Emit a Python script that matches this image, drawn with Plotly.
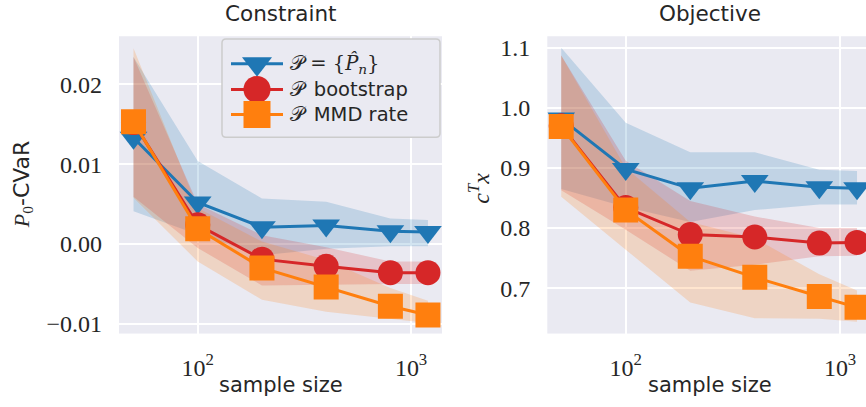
import plotly.graph_objects as go

W, H = 866, 407

# ---------------------------------------------------------------- data
sample_sizes = [50, 100, 200, 400, 800, 1200]

# Constraint panel: P0-CVaR of the returned decision
con_emp = [0.0133, 0.0052, 0.0021, 0.0023, 0.0016, 0.0015]
con_emp_hi = [0.0234, 0.0104, 0.0057, 0.0053, 0.0032, 0.0030]
con_emp_lo = [0.0041, 0.0012, -0.0014, -0.0006, -0.0003, -0.0003]

con_boot = [0.0152, 0.0024, -0.0019, -0.0028, -0.0036, -0.0036]
con_boot_hi = [0.0234, 0.0050, 0.0011, -0.0004, -0.0022, -0.0022]
con_boot_lo = [0.0059, -0.0005, -0.0052, -0.0051, -0.0050, -0.0050]

con_mmd = [0.0153, 0.0019, -0.0030, -0.0054, -0.0078, -0.0089]
con_mmd_hi = [0.0245, 0.0045, 0.0003, -0.0020, -0.0055, -0.0071]
con_mmd_lo = [0.0058, -0.0022, -0.0070, -0.0085, -0.0094, -0.0099]

# Objective panel: c^T x
obj_emp = [0.982, 0.898, 0.866, 0.878, 0.868, 0.866]
obj_emp_hi = [1.100, 0.975, 0.926, 0.926, 0.897, 0.895]
obj_emp_lo = [0.865, 0.835, 0.810, 0.830, 0.839, 0.839]

obj_boot = [0.970, 0.834, 0.789, 0.785, 0.775, 0.776]
obj_boot_hi = [1.087, 0.912, 0.845, 0.819, 0.800, 0.800]
obj_boot_lo = [0.863, 0.797, 0.729, 0.739, 0.753, 0.754]

obj_mmd = [0.969, 0.830, 0.753, 0.718, 0.686, 0.668]
obj_mmd_hi = [1.087, 0.900, 0.810, 0.783, 0.723, 0.696]
obj_mmd_lo = [0.852, 0.764, 0.676, 0.650, 0.649, 0.644]

x_tickvals = [100, 1000]
x_ticktext = ["10<sup>2</sup>", "10<sup>3</sup>"]
con_tickvals = [-0.01, 0.0, 0.01, 0.02]
con_ticktext = ["\u22120.01", "0.00", "0.01", "0.02"]
obj_tickvals = [0.7, 0.8, 0.9, 1.0, 1.1]
obj_ticktext = ["0.7", "0.8", "0.9", "1.0", "1.1"]

SCRIPT_P = "<span style=\"font-family:'DejaVu Serif'\">\U0001D4AB</span>"
method_names = [
    "<span style=\"font-family:'DejaVu Serif'\">\U0001D4AB = {<i>P\u0302</i><sub><i>n</i></sub>}</span>",
    SCRIPT_P + "\u2002bootstrap",
    SCRIPT_P + "\u2002MMD rate",
]

# ---------------------------------------------------------------- style
BLUE, RED, ORANGE = "#1f77b4", "#d62728", "#ff7f0e"
BAND = {BLUE: "rgba(31,119,180,0.2)", RED: "rgba(214,39,40,0.2)",
        ORANGE: "rgba(255,127,14,0.2)"}
SYMBOLS = {BLUE: "triangle-down", RED: "circle", ORANGE: "square"}
MSIZE = {BLUE: 24, RED: 25, ORANGE: 25}
BG = "#EAEAF2"
SANS = "DejaVu Sans"
SERIF = "Liberation Serif, serif"
TXT = "#262626"


def px(x):
    return x / W


def py(y):
    return 1 - y / H


fig = go.Figure()

panels = [
    ("x", "y", [(con_emp, con_emp_lo, con_emp_hi, BLUE),
                (con_boot, con_boot_lo, con_boot_hi, RED),
                (con_mmd, con_mmd_lo, con_mmd_hi, ORANGE)]),
    ("x2", "y2", [(obj_emp, obj_emp_lo, obj_emp_hi, BLUE),
                  (obj_boot, obj_boot_lo, obj_boot_hi, RED),
                  (obj_mmd, obj_mmd_lo, obj_mmd_hi, ORANGE)]),
]

for xa, ya, series in panels:
    # shaded spread bands first
    for mean, lo, hi, col in series:
        fig.add_trace(go.Scatter(
            x=sample_sizes + sample_sizes[::-1], y=hi + lo[::-1],
            fill="toself", fillcolor=BAND[col], line=dict(width=0),
            mode="lines", hoverinfo="skip", showlegend=False,
            xaxis=xa, yaxis=ya))
    # mean curves with markers on top
    for mean, lo, hi, col in series:
        fig.add_trace(go.Scatter(
            x=sample_sizes, y=mean, mode="lines+markers",
            line=dict(color=col, width=3),
            marker=dict(symbol=SYMBOLS[col], size=MSIZE[col], color=col,
                        opacity=1, line=dict(width=0)),
            showlegend=False, xaxis=xa, yaxis=ya))

# ---------------------------------------------------------------- legend
LEG_X0, LEG_X1, LEG_Y0, LEG_Y1 = 222, 440, 38.5, 138
leg_rows = [63.5, 89.5, 115.0]
for row, col in zip(leg_rows, [BLUE, RED, ORANGE]):
    # handle line
    fig.add_trace(go.Scatter(
        x=[231, 283], y=[row, row], mode="lines",
        line=dict(color=col, width=3),
        showlegend=False, hoverinfo="skip", xaxis="x3", yaxis="y3"))
    # handle marker
    fig.add_trace(go.Scatter(
        x=[257], y=[row], mode="markers",
        marker=dict(symbol=SYMBOLS[col], size=MSIZE[col] + 2, color=col,
                    opacity=1, line=dict(width=0)),
        showlegend=False, hoverinfo="skip", xaxis="x3", yaxis="y3"))

annotations = []
for row, name in zip(leg_rows, method_names):
    annotations.append(dict(
        x=px(288), y=py(row), xref="paper", yref="paper", text=name,
        showarrow=False, xanchor="left", yanchor="middle",
        font=dict(family=SANS, size=19.5, color=TXT)))

r = 4.0


def pt(x, y):
    return f"{px(x):.5f},{py(y):.5f}"


x0, x1, y0, y1 = LEG_X0, LEG_X1, LEG_Y0, LEG_Y1
border = (f"M{pt(x0 + r, y0)} L{pt(x1 - r, y0)} Q{pt(x1, y0)} {pt(x1, y0 + r)} "
          f"L{pt(x1, y1 - r)} Q{pt(x1, y1)} {pt(x1 - r, y1)} "
          f"L{pt(x0 + r, y1)} Q{pt(x0, y1)} {pt(x0, y1 - r)} "
          f"L{pt(x0, y0 + r)} Q{pt(x0, y0)} {pt(x0 + r, y0)} Z")

# ---------------------------------------------------------------- text
LEFT_CX, RIGHT_CX = 280.5, 709.5
for cx, title in [(LEFT_CX, "Constraint"), (RIGHT_CX, "Objective")]:
    annotations.append(dict(x=px(cx), y=py(13), xref="paper", yref="paper",
                            text=title, showarrow=False, xanchor="center",
                            yanchor="middle",
                            font=dict(family=SANS, size=21.5, color=TXT)))
    annotations.append(dict(x=px(cx), y=py(389), xref="paper", yref="paper",
                            text="sample size", showarrow=False,
                            xanchor="center", yanchor="middle",
                            font=dict(family=SANS, size=21, color=TXT)))

annotations.append(dict(
    x=px(22.5), y=py(186), xref="paper", yref="paper", textangle=-90,
    text="<span style=\"font-family:'Liberation Serif'\"><i>P</i><sub>0</sub></span>-CVaR",
    showarrow=False, xanchor="center", yanchor="middle",
    font=dict(family=SANS, size=22, color=TXT)))
annotations.append(dict(
    x=px(479), y=py(190), xref="paper", yref="paper", textangle=-90,
    text="<i>c</i><sup><i>T</i></sup><i>x</i>",
    showarrow=False, xanchor="center", yanchor="middle",
    font=dict(family=SERIF, size=24, color=TXT)))

# ---------------------------------------------------------------- axes
YDOM = [py(336.7), py(35.7)]
common_x = dict(type="log", showgrid=True, gridcolor="white", gridwidth=2,
                zeroline=False, showline=False, ticks="",
                tickvals=x_tickvals, ticktext=x_ticktext,
                tickfont=dict(family=SERIF, size=24, color=TXT),
                ticklabelstandoff=17)
common_y = dict(showgrid=True, gridcolor="white", gridwidth=2,
                zeroline=False, showline=False, ticks="",
                tickfont=dict(family=SERIF, size=24, color=TXT),
                ticklabelstandoff=16)

fig.update_layout(
    width=W, height=H, margin=dict(l=0, r=0, t=0, b=0),
    paper_bgcolor="white", plot_bgcolor=BG, showlegend=False,
    xaxis=dict(domain=[px(119), px(442)], range=[1.631, 3.145],
               anchor="y", **common_x),
    yaxis=dict(domain=YDOM, range=[-0.01122, 0.02601], anchor="x",
               tickvals=con_tickvals, ticktext=con_ticktext, **common_y),
    xaxis2=dict(domain=[px(547.3), 1.0], range=[1.634, 3.121],
                anchor="y2", **common_x),
    yaxis2=dict(domain=YDOM, range=[0.6244, 1.119], anchor="x2",
                tickvals=obj_tickvals, ticktext=obj_ticktext, **common_y),
    xaxis3=dict(domain=[px(LEG_X0), px(LEG_X1)], range=[LEG_X0, LEG_X1],
                anchor="y3", visible=False, showgrid=False, zeroline=False),
    yaxis3=dict(domain=[py(LEG_Y1), py(LEG_Y0)], range=[LEG_Y1, LEG_Y0],
                anchor="x3", visible=False, showgrid=False, zeroline=False),
    annotations=annotations,
    shapes=[dict(type="path", path=border, xref="paper", yref="paper",
                 line=dict(color="#cccccc", width=1.5), layer="above")],
)

fig.write_html("out.html")
